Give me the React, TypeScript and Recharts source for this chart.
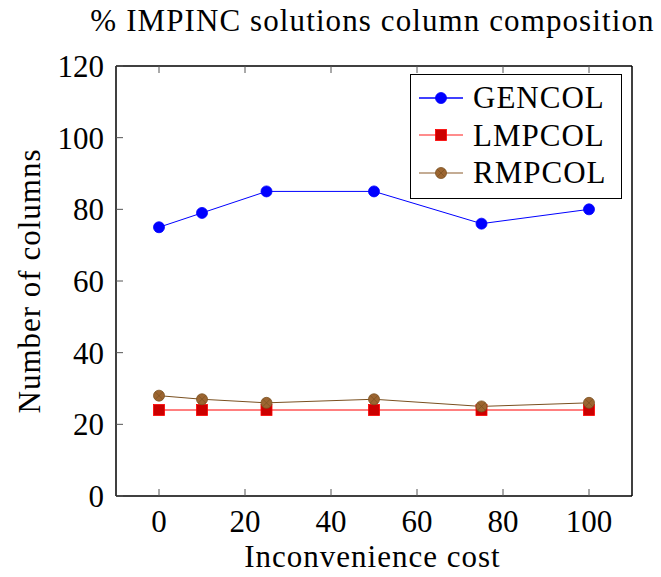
import { LineChart, Line, XAxis, YAxis } from 'recharts';

const costs = [0, 10, 25, 50, 75, 100];
const gencol = [75, 79, 85, 85, 76, 80];
const lmpcol = [24, 24, 24, 24, 24, 24];
const rmpcol = [28, 27, 26, 27, 25, 26];
const xTicks = [0, 20, 40, 60, 80, 100];
const yTicks = [0, 20, 40, 60, 80, 100, 120];

const data = costs.map((c, i) => ({ cost: c, GENCOL: gencol[i], LMPCOL: lmpcol[i], RMPCOL: rmpcol[i] }));

const FONT = "'Liberation Serif', 'DejaVu Serif', serif";
const FS = 31;
const LS = 1; // letter spacing to get closer to the wider CM look

const BLUE = '#0000ff';
const RED = '#ff0000';
const RED_FILL = '#cc0000';
const BROWN = '#7a5020';
const BROWN_FILL = '#9c6531';

function BlueDot(props: any) {
    const { cx, cy } = props;
    if (cx == null || cy == null) return null;
    return <circle cx={cx} cy={cy} r={5.5} fill={BLUE} stroke={BLUE} strokeWidth={0.8} />;
}

function RedSquare(props: any) {
    const { cx, cy } = props;
    if (cx == null || cy == null) return null;
    return <rect x={cx - 5.5} y={cy - 5.5} width={11} height={11} fill={RED_FILL} stroke={RED} strokeWidth={0.8} />;
}

function BrownDot(props: any) {
    const { cx, cy } = props;
    if (cx == null || cy == null) return null;
    const d = 3.8;
    return (
        <g>
            <circle cx={cx} cy={cy} r={5.5} fill={BROWN_FILL} stroke={BROWN} strokeWidth={0.8} />
            <line x1={cx - d} y1={cy - d} x2={cx + d} y2={cy + d} stroke={BROWN} strokeWidth={0.7} />
            <line x1={cx - d} y1={cy + d} x2={cx + d} y2={cy - d} stroke={BROWN} strokeWidth={0.7} />
        </g>
    );
}

// ticks drawn inward, labels outside
function BottomTick(props: any) {
    const { x, y, payload } = props;
    return (
        <g>
            <line x1={x} y1={y} x2={x} y2={y - 7} stroke="#555" strokeWidth={1} />
            <text x={x} y={y + 36} textAnchor="middle" fontFamily={FONT} fontSize={FS} fill="#000">{payload.value}</text>
        </g>
    );
}

function TopTick(props: any) {
    const { x, y } = props;
    return <line x1={x} y1={y} x2={x} y2={y + 7} stroke="#555" strokeWidth={1} />;
}

function LeftTick(props: any) {
    const { x, y, payload } = props;
    return (
        <g>
            <line x1={x} y1={y} x2={x + 7} y2={y} stroke="#555" strokeWidth={1} />
            <text x={x - 12} y={y + 11} textAnchor="end" fontFamily={FONT} fontSize={FS} fill="#000">{payload.value}</text>
        </g>
    );
}

function RightTick(props: any) {
    const { x, y } = props;
    return <line x1={x} y1={y} x2={x - 7} y2={y} stroke="#555" strokeWidth={1} />;
}

const legendItems = [
    { name: 'GENCOL', color: BLUE, marker: 'circle' },
    { name: 'LMPCOL', color: '#ff6666', marker: 'square' },
    { name: 'RMPCOL', color: '#b09070', marker: 'otimes' },
];

function LegendBox() {
    return (
        <div style={{ position: 'absolute', left: 410, top: 74, border: '1.5px solid #000', background: '#fff', width: 210, padding: '4px 0 6px 0', fontFamily: FONT, fontSize: FS, letterSpacing: LS }}>
            {legendItems.map((it) => (
                <div key={it.name} style={{ display: 'flex', alignItems: 'center', height: 37.5 }}>
                    <svg width={62} height={20} style={{ flexShrink: 0 }}>
                        <line x1={8} y1={10} x2={52} y2={10} stroke={it.color} strokeWidth={1.5} />
                        {it.marker === 'circle' && <BlueDot cx={30} cy={10} />}
                        {it.marker === 'square' && <RedSquare cx={30} cy={10} />}
                        {it.marker === 'otimes' && <BrownDot cx={30} cy={10} />}
                    </svg>
                    <span style={{ lineHeight: 1 }}>{it.name}</span>
                </div>
            ))}
        </div>
    );
}

export default function App() {
    return (
        <div style={{ position: 'absolute', left: 0, top: 0, width: 661, height: 577, background: '#fff' }}>
            <div style={{ position: 'absolute', left: 0, top: 3, width: 661, paddingLeft: 84, textAlign: 'center', boxSizing: 'border-box', fontFamily: FONT, fontSize: FS, letterSpacing: 1.1, whiteSpace: 'nowrap' }}>
                % IMPINC solutions column composition
            </div>
            <LineChart width={661} height={577} data={data} margin={{ top: 65, right: 28, left: 0, bottom: 0 }}>
                <XAxis xAxisId="b" dataKey="cost" type="number" domain={[-10, 110]} ticks={xTicks} height={81}
                    tickSize={0} tickMargin={0} tickLine={false} tick={<BottomTick />} axisLine={{ stroke: '#000', strokeWidth: 1.5 }}
                    allowDecimals={false} interval={0} />
                <XAxis xAxisId="t" orientation="top" dataKey="cost" type="number" domain={[-10, 110]} ticks={xTicks} height={1}
                    tickSize={0} tickMargin={0} tickLine={false} tick={<TopTick />} axisLine={{ stroke: '#000', strokeWidth: 1.5 }} interval={0} />
                <YAxis yAxisId="l" type="number" domain={[0, 120]} ticks={yTicks} width={116}
                    tickSize={0} tickMargin={0} tickLine={false} tick={<LeftTick />} axisLine={{ stroke: '#000', strokeWidth: 1.5 }} interval={0} />
                <YAxis yAxisId="r" orientation="right" type="number" domain={[0, 120]} ticks={yTicks} width={1}
                    tickSize={0} tickMargin={0} tickLine={false} tick={<RightTick />} axisLine={{ stroke: '#000', strokeWidth: 1.5 }} interval={0} />
                <Line xAxisId="b" yAxisId="l" dataKey="GENCOL" stroke={BLUE} strokeWidth={1} dot={<BlueDot />} activeDot={false} isAnimationActive={false} />
                <Line xAxisId="b" yAxisId="l" dataKey="LMPCOL" stroke={RED} strokeWidth={1} dot={<RedSquare />} activeDot={false} isAnimationActive={false} />
                <Line xAxisId="b" yAxisId="l" dataKey="RMPCOL" stroke={BROWN} strokeWidth={1} dot={<BrownDot />} activeDot={false} isAnimationActive={false} />
            </LineChart>
            <LegendBox />
            <div style={{ position: 'absolute', left: 0, top: 541, width: 661, height: 31, lineHeight: '31px', paddingLeft: 84, textAlign: 'center', boxSizing: 'border-box', fontFamily: FONT, fontSize: FS, letterSpacing: LS }}>
                Inconvenience cost
            </div>
            <div style={{ position: 'absolute', left: 30, top: 281, transform: 'translate(-50%, -50%) rotate(-90deg)', fontFamily: FONT, fontSize: FS, letterSpacing: LS, whiteSpace: 'nowrap' }}>
                Number of columns
            </div>
        </div>
    );
}
